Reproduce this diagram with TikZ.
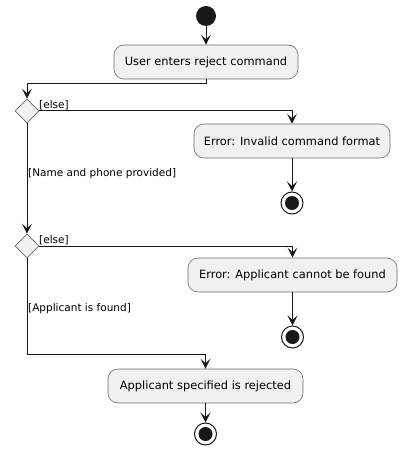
\documentclass[tikz,border=0pt]{standalone}
\usepackage{fontspec}
\setmainfont{DejaVu Sans}
\usetikzlibrary{shapes.geometric,arrows.meta}
\definecolor{boxfill}{HTML}{F1F1F1}
\definecolor{lncol}{HTML}{181818}
\begin{document}
\begin{tikzpicture}[x=1pt,y=-1pt,
 act/.style={draw=lncol!65, line width=0.6pt, fill=boxfill, rounded corners=10pt, minimum height=34pt, inner sep=0pt, font=\fontsize{11.4}{13}\selectfont},
 diam/.style={diamond, draw=lncol!65, line width=0.6pt, fill=boxfill, minimum width=24pt, minimum height=24pt, inner sep=0pt},
 lbl/.style={font=\fontsize{10.5}{12}\selectfont, inner sep=1pt},
 arr/.style={draw=lncol, line width=1pt, -{Stealth[length=10pt,width=10pt,inset=4.5pt]}},
 startnode/.style={circle, fill=lncol, minimum size=20pt, inner sep=0pt},
 endnode/.style={circle, draw=lncol, line width=1pt, fill=white, minimum size=22pt, inner sep=0pt, path picture={\fill[lncol] (path picture bounding box.center) circle (7pt);}}
]
\useasboundingbox (0,0) rectangle (402,449);
\node[startnode] (s) at (206,16) {};
\node[act, minimum width=184pt] (b1) at (206,62) {User enters reject command};
\node[diam] (d1) at (27,111) {};
\node[act, minimum width=196pt] (b2) at (292,141) {Error: Invalid command format};
\node[endnode] (e1) at (292,203) {};
\node[diam] (d2) at (27,246) {};
\node[act, minimum width=209pt] (b3) at (292.5,275) {Error: Applicant cannot be found};
\node[endnode] (e2) at (292.5,337) {};
\node[act, minimum width=195pt] (b4) at (205.5,386) {Applicant specified is rejected};
\node[endnode] (e3) at (205.5,434) {};
\coordinate (j1) at (206,84);
\coordinate (j2) at (205.5,354);
\node[lbl, anchor=south west] (l1) at (38,111) {[else]};
\node[lbl, anchor=west] (l2) at (27,174) {[Name and phone provided]};
\node[lbl, anchor=south west] (l3) at (38,246) {[else]};
\node[lbl, anchor=west] (l4) at (27,309) {[Applicant is found]};
\draw[arr] (s) -- (b1);
\draw[arr] (b1.south) -- (j1) -| (d1.north);
\draw[arr] (d1.east) -| (b2.north);
\draw[arr] (b2) -- (e1);
\draw[arr] (d1.south) -- (d2.north);
\draw[arr] (d2.east) -| (b3.north);
\draw[arr] (b3) -- (e2);
\draw[arr] (d2.south) |- (j2) -- (b4.north);
\draw[arr] (b4) -- (e3);
\end{tikzpicture}
\end{document}
